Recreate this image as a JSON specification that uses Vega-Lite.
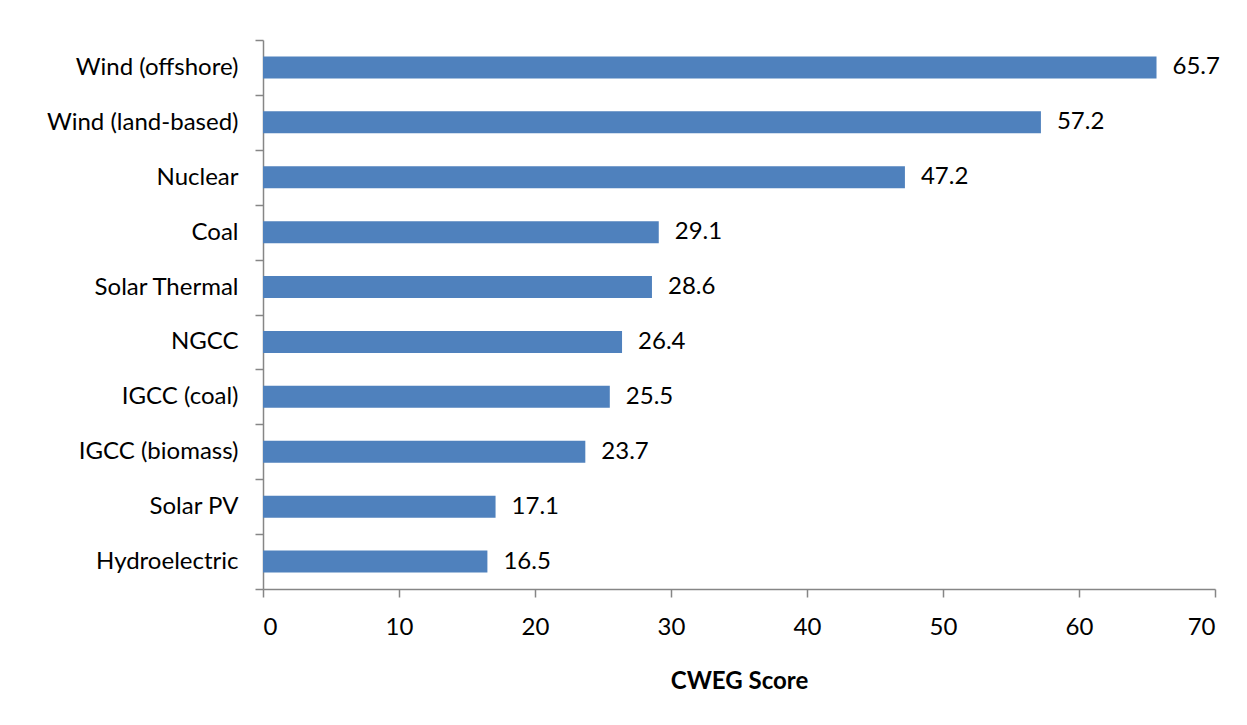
{
  "$schema": "https://vega.github.io/schema/vega-lite/v6.json",
  "width": 952,
  "height": 549,
  "autosize": {"type": "none"},
  "padding": {"left": 263, "top": 40, "right": 32, "bottom": 136},
  "background": "white",
  "config": {
    "view": {"stroke": null},
    "font": "Lato",
    "axis": {"labelFont": "Lato", "titleFont": "Lato", "labelColor": "#000", "titleColor": "#000", "domainColor": "#868686", "tickColor": "#868686", "domainWidth": 1.5, "tickWidth": 1.5, "tickSize": 8, "labelLimit": 400}
  },
  "data": {
    "values": [
      {"source": "Wind (offshore)", "score": 65.7},
      {"source": "Wind (land-based)", "score": 57.2},
      {"source": "Nuclear", "score": 47.2},
      {"source": "Coal", "score": 29.1},
      {"source": "Solar Thermal", "score": 28.6},
      {"source": "NGCC", "score": 26.4},
      {"source": "IGCC (coal)", "score": 25.5},
      {"source": "IGCC (biomass)", "score": 23.7},
      {"source": "Solar PV", "score": 17.1},
      {"source": "Hydroelectric", "score": 16.5}
    ]
  },
  "encoding": {
    "y": {
      "field": "source", "type": "nominal", "sort": null,
      "scale": {"paddingInner": 0, "paddingOuter": 0},
      "axis": {"title": null, "tickBand": "extent", "labelFontSize": 24, "labelPadding": 17, "labelLimit": 400, "grid": false}
    },
    "x": {
      "field": "score", "type": "quantitative",
      "scale": {"domain": [0, 70], "nice": false},
      "axis": {"title": "CWEG Score", "values": [0,10,20,30,40,50,60,70], "grid": false, "labelFontSize": 24, "labelPadding": 18, "titleFontSize": 24, "titleFontWeight": "bold", "titlePadding": 30}
    }
  },
  "layer": [
    {"mark": {"type": "bar", "color": "#4F81BD", "height": {"band": 0.4}}},
    {"mark": {"type": "text", "align": "left", "dx": 16, "fontSize": 24, "color": "#000", "baseline": "middle"}, "encoding": {"text": {"field": "score", "type": "quantitative", "format": ".1f"}}}
  ]
}
